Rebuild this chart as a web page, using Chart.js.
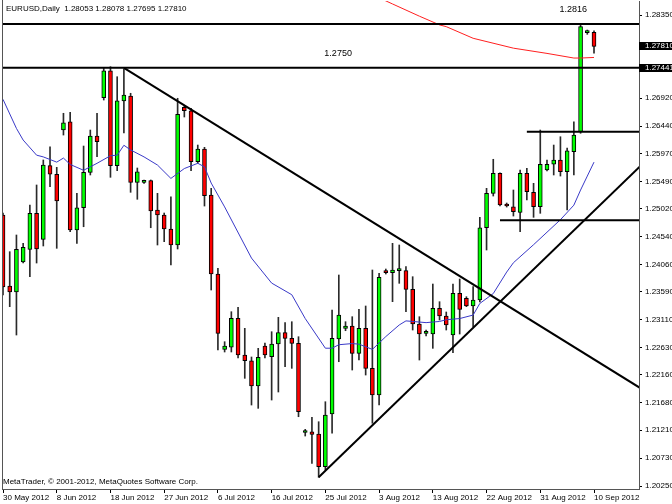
<!DOCTYPE html>
<html>
<head>
<meta charset="utf-8">
<script src="https://cdn.jsdelivr.net/npm/chart.js@4.4.0/dist/chart.umd.min.js"></script>
<style>
  html, body { margin: 0; padding: 0; background: #fff; }
  canvas { display: block; }
</style>
</head>
<body>
<canvas id="chart" width="672" height="504"></canvas>
<script>
const symbol = 'EURUSD';
const period = 'Daily';
const copyright = 'MetaTrader, \u00a9 2001-2012, MetaQuotes Software Corp.';

// bar index of each date label (one bar per day, Sunday bars included)
const dateIdx = [0, 8, 16, 24, 32, 40, 48, 56, 64, 72, 80, 88];
const dateLabels = ['30 May 2012', '8 Jun 2012', '18 Jun 2012', '27 Jun 2012', '6 Jul 2012', '16 Jul 2012',
    '25 Jul 2012', '3 Aug 2012', '13 Aug 2012', '22 Aug 2012', '31 Aug 2012', '10 Sep 2012'];

const yTicks = [1.28350, 1.26920, 1.26440, 1.25970, 1.25490, 1.25020, 1.24540, 1.24060,
    1.23590, 1.23110, 1.22630, 1.22160, 1.21680, 1.21210, 1.20730, 1.20250];

const opens = [1.24911, 1.23690, 1.23587, 1.24102, 1.24321, 1.24940, 1.24493, 1.25759, 1.25611, 1.26372,
    1.26515, 1.24653, 1.25036, 1.25645, 1.26269, 1.26928, 1.27392, 1.25759, 1.26871, 1.26957,
    1.25473, 1.25473, 1.25501, 1.24997, 1.24911, 1.24670, 1.24395, 1.26763, 1.26704, 1.25827,
    1.26046, 1.25255, 1.23896, 1.22601, 1.22636, 1.23134, 1.22503, 1.22405, 1.21970, 1.22658,
    1.22474, 1.22692, 1.22887, 1.22790, 1.22704, 1.21170, 1.21184, 1.21145, 1.20582, 1.21488,
    1.22778, 1.22962, 1.23002, 1.22532, 1.22962, 1.22274, 1.21815, 1.23953, 1.23918, 1.23953,
    1.23953, 1.23633, 1.23036, 1.22876, 1.22864, 1.23306, 1.23174, 1.22847, 1.23564, 1.23478,
    1.23346, 1.23449, 1.24692, 1.25284, 1.25628, 1.25100, 1.25053, 1.24957, 1.25628, 1.25301,
    1.25053, 1.25685, 1.25783, 1.25857, 1.25655, 1.25999, 1.26343, 1.28047, 1.28053];
const highs = [1.24945, 1.24280, 1.24567, 1.24424, 1.25083, 1.25427, 1.25857, 1.26085, 1.25731, 1.26660,
    1.26677, 1.25284, 1.26097, 1.26372, 1.26660, 1.27433, 1.27461, 1.27289, 1.27421, 1.27004,
    1.25719, 1.25513, 1.25513, 1.25284, 1.24945, 1.25225, 1.26918, 1.26785, 1.26746, 1.26114,
    1.26075, 1.25370, 1.23994, 1.22732, 1.23248, 1.23323, 1.22962, 1.22469, 1.22618, 1.22709,
    1.22904, 1.23151, 1.23059, 1.23076, 1.22818, 1.21225, 1.21432, 1.21356, 1.21700, 1.23277,
    1.23879, 1.23076, 1.23162, 1.23289, 1.23346, 1.23965, 1.23908, 1.23982, 1.24424, 1.24395,
    1.24022, 1.23850, 1.23162, 1.22933, 1.23724, 1.23420, 1.23243, 1.23724, 1.23810, 1.23506,
    1.23678, 1.24871, 1.25370, 1.25869, 1.25638, 1.25117, 1.25341, 1.25685, 1.25714, 1.25456,
    1.26372, 1.25857, 1.26114, 1.26257, 1.26063, 1.26515, 1.28187, 1.28092, 1.28078];
const lows = [1.23535, 1.23334, 1.22847, 1.24085, 1.23850, 1.24085, 1.24378, 1.25397, 1.24338, 1.26286,
    1.24624, 1.24424, 1.24709, 1.25599, 1.25913, 1.26888, 1.25559, 1.25673, 1.26321, 1.25301,
    1.25181, 1.25452, 1.24692, 1.24395, 1.24452, 1.24051, 1.24326, 1.26596, 1.25673, 1.25800,
    1.25065, 1.23621, 1.22589, 1.22555, 1.22555, 1.22452, 1.22102, 1.21643, 1.21586, 1.22452,
    1.21729, 1.21867, 1.22302, 1.22274, 1.21442, 1.21110, 1.20641, 1.20400, 1.20525, 1.21157,
    1.22388, 1.22921, 1.22245, 1.22417, 1.22159, 1.21329, 1.21643, 1.23896, 1.23420, 1.23736,
    1.23248, 1.22933, 1.22417, 1.22830, 1.22618, 1.23105, 1.22933, 1.22543, 1.22864, 1.23334,
    1.22990, 1.23415, 1.24309, 1.25237, 1.25065, 1.25048, 1.24893, 1.24624, 1.25169, 1.24871,
    1.24940, 1.25667, 1.25599, 1.25581, 1.24997, 1.25599, 1.26316, 1.28018, 1.27695];
const closes = [1.23673, 1.23587, 1.24321, 1.24355, 1.24940, 1.24326, 1.25771, 1.25611, 1.25151, 1.26498,
    1.24653, 1.25036, 1.25645, 1.26269, 1.26171, 1.27392, 1.25759, 1.26876, 1.26974, 1.25473,
    1.25655, 1.25495, 1.24979, 1.24911, 1.24670, 1.24395, 1.26642, 1.26704, 1.25827, 1.26046,
    1.25243, 1.23896, 1.22876, 1.22658, 1.23134, 1.22503, 1.22405, 1.21970, 1.22464, 1.22503,
    1.22692, 1.22887, 1.22790, 1.22704, 1.21528, 1.21175, 1.21139, 1.20582, 1.21471, 1.22790,
    1.23191, 1.23002, 1.22532, 1.22962, 1.22274, 1.21815, 1.23839, 1.23918, 1.23965, 1.23958,
    1.23633, 1.23036, 1.22864, 1.22881, 1.23306, 1.23174, 1.23019, 1.23564, 1.23289, 1.23346,
    1.23449, 1.24692, 1.25284, 1.25628, 1.25083, 1.25065, 1.24967, 1.25628, 1.25311, 1.25053,
    1.25783, 1.25783, 1.25857, 1.25655, 1.26016, 1.26286, 1.28149, 1.28058, 1.27810];

// moving averages at some bars
const maBlueIdx = [0, 2, 3, 5, 6, 8, 9, 10, 12, 13, 14, 16, 17, 18, 19, 21, 23, 25, 27, 29, 30, 31, 33,
    37, 40, 43, 45, 48, 49, 50, 52, 53, 55, 57, 59, 60, 63, 65, 66, 68, 70, 71, 73, 75, 76, 79, 83, 85, 86, 87, 88];
const maBlueVal = [1.2690, 1.2640, 1.2620, 1.2594, 1.2591, 1.2582, 1.2589, 1.2578, 1.2568, 1.2574, 1.2580,
    1.2593, 1.2594, 1.2611, 1.2603, 1.2591, 1.2577, 1.2554, 1.2571, 1.2580, 1.2574, 1.2546, 1.2505,
    1.2417, 1.2374, 1.2354, 1.2313, 1.2262, 1.2262, 1.2268, 1.2270, 1.2269, 1.2260, 1.2282, 1.2302,
    1.2309, 1.2306, 1.2308, 1.2311, 1.2313, 1.2319, 1.2339, 1.2356, 1.2393, 1.2409, 1.2440, 1.2483,
    1.2508, 1.2534, 1.2558, 1.2582];
const maRedIdx = [55, 58, 62, 65, 66, 70, 76, 81, 85, 86, 88];
const maRedVal = [1.2870, 1.2854, 1.2833, 1.2818, 1.2815, 1.2795, 1.2778, 1.2769, 1.2761, 1.2761, 1.2762];

// drawn objects
const levelPrices = [1.28195, 1.27441];
const shortLevelStart = [78, 74];
const shortLevelPrices = [1.26343, 1.24820];
const trendStartIdx = [18, 47];
const trendStartPrice = [1.27441, 1.20400];
const trendEndIdx = [95, 95];
const trendEndPrice = [1.21928, 1.25764];
const tagPrices = [1.27810, 1.27441];
const noteTexts = ['1.2816', '1.2750'];
const noteIdx = [84.9, 49.9];
const notePrices = [1.28441, 1.27685];

const fontName = 'Liberation Sans';
const last = opens.length - 1;

function lineDataset(points, color, width, order) {
    return {
        type: 'line',
        data: points,
        borderColor: color,
        borderWidth: width,
        pointRadius: 0,
        fill: false,
        tension: 0,
        order: order
    };
}

const candleIdx = opens.map((_, i) => i);
const wickData = candleIdx.map(i => ({ x: i, y: [lows[i], highs[i]] }));
const bodyData = candleIdx.map(i => ({ x: i, y: [opens[i], closes[i]] }));
const bodyColors = candleIdx.map(i => closes[i] >= opens[i] ? '#00ff00' : '#ff0000');

const datasets = [
    {
        type: 'bar', data: wickData, backgroundColor: '#2a2a2a', borderWidth: 0,
        barThickness: 1, grouped: false, order: 3
    },
    {
        type: 'bar', data: bodyData, backgroundColor: bodyColors, borderColor: '#000', borderWidth: 1,
        borderSkipped: false, barThickness: 4, minBarLength: 2, grouped: false, order: 2
    },
    lineDataset(maBlueIdx.map((x, i) => ({ x: x, y: maBlueVal[i] })), '#3a3ac8', 1, 1),
    lineDataset(maRedIdx.map((x, i) => ({ x: x, y: maRedVal[i] })), '#ff2020', 1, 1)
];

levelPrices.forEach(p => {
    datasets.push(lineDataset([{ x: -1, y: p }, { x: 100, y: p }], '#000', 2, 0));
});
shortLevelPrices.forEach((p, i) => {
    datasets.push(lineDataset([{ x: shortLevelStart[i], y: p }, { x: 100, y: p }], '#000', 2, 0));
});
trendStartIdx.forEach((x, i) => {
    datasets.push(lineDataset([{ x: x, y: trendStartPrice[i] }, { x: trendEndIdx[i], y: trendEndPrice[i] }], '#000', 2, 0));
});

// background, frame, texts and price tags
const chartDecor = {
    id: 'chartDecor',
    beforeDraw(chart) {
        const ctx = chart.ctx;
        ctx.save();
        ctx.fillStyle = '#fff';
        ctx.fillRect(0, 0, chart.width, chart.height);
        ctx.restore();
    },
    afterDraw(chart) {
        const { ctx, chartArea, scales } = chart;
        ctx.save();

        ctx.strokeStyle = '#555';
        ctx.lineWidth = 1;
        ctx.beginPath();
        ctx.moveTo(chartArea.left + 0.5, 0);
        ctx.lineTo(chartArea.left + 0.5, chartArea.bottom);
        ctx.stroke();

        ctx.font = `8px ${fontName}`;
        ctx.fillStyle = '#000';
        ctx.textBaseline = 'middle';
        ctx.textAlign = 'left';
        const ohlc = [opens[last], highs[last], lows[last], closes[last]].map(v => v.toFixed(5)).join(' ');
        ctx.fillText(`${symbol},${period}  ${ohlc}`, 6, 9);
        ctx.fillText(copyright, 3, 482);

        ctx.font = `9px ${fontName}`;
        ctx.textAlign = 'center';
        noteTexts.forEach((t, i) => {
            ctx.fillText(t, scales.x.getPixelForValue(noteIdx[i]), scales.y.getPixelForValue(notePrices[i]));
        });

        ctx.font = `8px ${fontName}`;
        ctx.textAlign = 'left';
        tagPrices.forEach(p => {
            const y = scales.y.getPixelForValue(p);
            ctx.fillStyle = '#000';
            ctx.fillRect(chartArea.right, Math.round(y) - 4, chart.width - chartArea.right, 8);
            ctx.fillStyle = '#fff';
            ctx.fillText(p.toFixed(5), chartArea.right + 6, Math.round(y));
        });
        ctx.restore();
    }
};

const ctx = document.getElementById('chart').getContext('2d');
new Chart(ctx, {
    type: 'line',
    data: { datasets: datasets },
    plugins: [chartDecor],
    options: {
        responsive: false,
        animation: false,
        devicePixelRatio: 1,
        layout: { padding: { left: 2, top: 1, right: 0, bottom: 0 } },
        plugins: {
            legend: { display: false },
            tooltip: { enabled: false }
        },
        scales: {
            x: {
                type: 'linear',
                min: -0.15,
                max: 94.7,
                offset: false,
                bounds: 'data',
                afterBuildTicks: scale => { scale.ticks = dateIdx.map(v => ({ value: v })); },
                afterFit: scale => { scale.height = 15; scale.paddingLeft = 0; scale.paddingRight = 0; },
                ticks: {
                    callback: v => dateLabels[dateIdx.indexOf(v)],
                    align: 'start',
                    autoSkip: false,
                    maxRotation: 0,
                    padding: 0,
                    color: '#000',
                    font: { family: fontName, size: 8 }
                },
                grid: { drawOnChartArea: false, tickLength: 4, color: '#000', offset: false },
                border: { display: true, color: '#555', width: 1 }
            },
            y: {
                type: 'linear',
                position: 'right',
                min: 1.20199,
                max: 1.28591,
                bounds: 'data',
                beginAtZero: false,
                afterBuildTicks: scale => { scale.ticks = yTicks.map(v => ({ value: v })); },
                afterFit: scale => { scale.width = 33; scale.paddingTop = 0; scale.paddingBottom = 0; },
                ticks: {
                    callback: v => v.toFixed(5),
                    autoSkip: false,
                    padding: 3,
                    color: '#000',
                    font: { family: fontName, size: 8 }
                },
                grid: { drawOnChartArea: false, tickLength: 3, color: '#000' },
                border: { display: true, color: '#555', width: 1 }
            }
        }
    }
});
</script>
</body>
</html>
